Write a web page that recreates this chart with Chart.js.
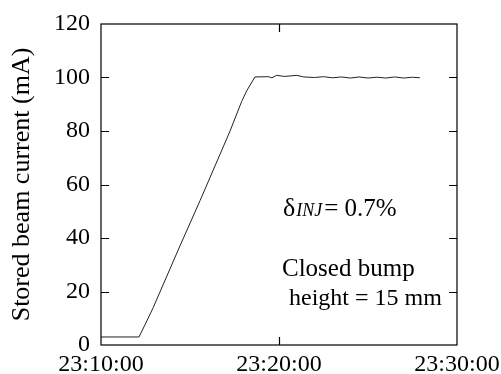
<!DOCTYPE html>
<html>
<head>
<meta charset="utf-8">
<script src="https://cdn.jsdelivr.net/npm/chart.js@4"></script>
<style>
  html, body { margin: 0; padding: 0; background: #fff; }
  #wrap { width: 501px; height: 374px; }
</style>
</head>
<body>
<div id="wrap"><canvas id="beamChart" width="501" height="374"></canvas></div>
<script>
// readings: time of day and stored current (mA)
const times = [
  '23:10:00', '23:12:08', '23:12:28', '23:12:56', '23:14:26', '23:15:34',
  '23:16:07', '23:17:15', '23:17:54', '23:18:11', '23:18:39', '23:19:24',
  '23:19:36', '23:19:52', '23:20:18', '23:21:00', '23:21:24', '23:22:00',
  '23:22:30', '23:23:00', '23:23:30', '23:24:00', '23:24:30', '23:25:00',
  '23:25:30', '23:26:00', '23:26:30', '23:27:00', '23:27:30', '23:27:55'
];
const current = [
  3.0, 3.0, 7.5, 14.0, 37.0, 54.0,
  62.5, 80.0, 91.0, 95.0, 100.2, 100.3,
  99.9, 100.8, 100.4, 100.8, 100.2, 100.0,
  100.3, 99.9, 100.2, 99.8, 100.2, 99.8,
  100.1, 99.8, 100.2, 99.8, 100.1, 99.9
];
const xTicks = ['23:10:00', '23:20:00', '23:30:00'];
const yTicks = [0, 20, 40, 60, 80, 100, 120];

const FONT = "'Liberation Serif', 'Times New Roman', serif";

function toSec(t) {
  const p = t.split(':').map(Number);
  return p[0] * 3600 + p[1] * 60 + p[2];
}
function fmt(sec) {
  const h = Math.floor(sec / 3600);
  const m = Math.floor((sec % 3600) / 60);
  const s = sec % 60;
  return [h, m, s].map(v => String(v).padStart(2, '0')).join(':');
}

const xMin = toSec(xTicks[0]);
const xMax = toSec(xTicks[xTicks.length - 1]);

// frame, inward ticks and the two notes
const framePlugin = {
  id: 'frame',
  afterDraw(chart) {
    const { ctx, chartArea: a, scales } = chart;
    ctx.save();
    ctx.strokeStyle = '#000';
    ctx.lineWidth = 1.2;
    ctx.strokeRect(a.left, a.top, a.right - a.left, a.bottom - a.top);
    ctx.beginPath();
    yTicks.slice(1, -1).forEach(v => {
      const y = Math.round(scales.y.getPixelForValue(v)) + 0.5;
      ctx.moveTo(a.left, y); ctx.lineTo(a.left + 8, y);
      ctx.moveTo(a.right, y); ctx.lineTo(a.right - 8, y);
    });
    xTicks.slice(1, -1).forEach(t => {
      const x = Math.round(scales.x.getPixelForValue(toSec(t))) + 0.5;
      ctx.moveTo(x, a.top); ctx.lineTo(x, a.top + 8);
      ctx.moveTo(x, a.bottom); ctx.lineTo(x, a.bottom - 8);
    });
    ctx.stroke();

    ctx.fillStyle = '#000';
    ctx.textBaseline = 'alphabetic';
    let x = 283;
    const base = 216;
    ctx.font = '26px ' + FONT;
    ctx.fillText('\u03b4', x, base);
    x += ctx.measureText('\u03b4').width + 1;
    ctx.font = 'italic 18px ' + FONT;
    ctx.fillText('INJ', x, base);
    x += ctx.measureText('INJ').width + 2;
    ctx.font = '25px ' + FONT;
    ctx.fillText('= 0.7%', x, base);

    ctx.fillText('Closed bump', 282, 276);
    ctx.font = '24px ' + FONT;
    ctx.fillText(' height = 15 mm', 283, 305);
    ctx.restore();
  }
};

const ctx = document.getElementById('beamChart').getContext('2d');
const beamChart = new Chart(ctx, {
  type: 'line',
  data: {
    datasets: [{
      label: 'Stored beam current',
      data: times.map((t, i) => ({ x: toSec(t), y: current[i] })),
      borderColor: '#222',
      borderWidth: 1,
      pointRadius: 0,
      fill: false,
      tension: 0
    }]
  },
  options: {
    responsive: false,
    animation: false,
    layout: { padding: { top: 24, right: 44, left: 0, bottom: 0 } },
    plugins: {
      legend: { display: false },
      tooltip: { enabled: false }
    },
    scales: {
      x: {
        type: 'linear',
        min: xMin,
        max: xMax,
        afterBuildTicks: scale => {
          scale.ticks = xTicks.map(t => ({ value: toSec(t) }));
        },
        afterFit: scale => {
          scale.height = 29;
          scale.paddingLeft = 0;
          scale.paddingRight = 0;
        },
        grid: { display: false, drawTicks: false },
        border: { display: false },
        ticks: {
          color: '#000',
          padding: 5,
          maxRotation: 0,
          autoSkip: false,
          font: { family: FONT, size: 24 },
          callback: v => fmt(v)
        }
      },
      y: {
        min: 0,
        max: 120,
        afterBuildTicks: scale => {
          scale.ticks = yTicks.map(v => ({ value: v }));
        },
        afterFit: scale => {
          scale.width = 101;
          scale.paddingTop = 0;
          scale.paddingBottom = 0;
        },
        grid: { display: false, drawTicks: false },
        border: { display: false },
        ticks: {
          color: '#000',
          padding: 11,
          font: { family: FONT, size: 24 }
        },
        title: {
          display: true,
          text: 'Stored beam current (mA)',
          color: '#000',
          padding: { top: 7, bottom: 0 },
          font: { family: FONT, size: 26 }
        }
      }
    }
  },
  plugins: [framePlugin]
});
</script>
</body>
</html>
